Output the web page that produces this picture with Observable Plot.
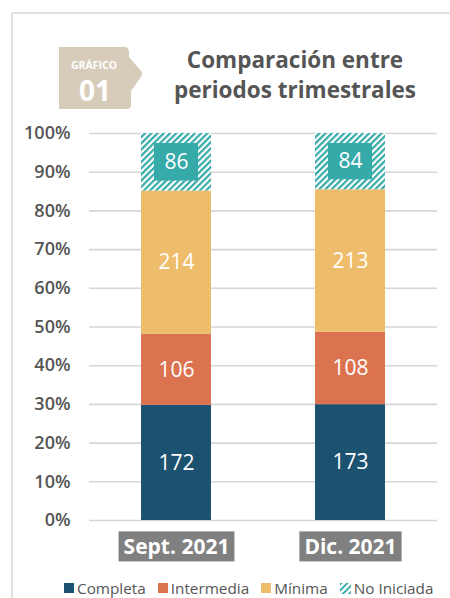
<!DOCTYPE html>
<html>
<head>
<meta charset="utf-8">
<script src="https://cdn.jsdelivr.net/npm/d3@7"></script>
<script src="https://cdn.jsdelivr.net/npm/@observablehq/plot@0.6"></script>
<style>
  html, body { margin: 0; padding: 0; background: #fff; }
  #wrap { position: relative; width: 450px; height: 598px; overflow: hidden; font-family: "Open Sans", sans-serif; }
  #frame-top { position: absolute; left: 12px; top: 12px; width: 440px; height: 2px; background: #e0e0e0; }
  #frame-left { position: absolute; left: 11px; top: 12px; width: 2px; height: 590px; background: #e0e0e0; }
  #badge { position: absolute; left: 59px; top: 47px; }
  #title { position: absolute; left: 150px; top: 45px; width: 290px; text-align: center; font-size: 22.5px; font-weight: 700; color: #555; line-height: 30px; }
  #chart { position: absolute; left: 0; top: 115px; }
  #legend { position: absolute; left: 64px; top: 578px; display: flex; gap: 12px; font-size: 15.3px; color: #555; white-space: nowrap; }
  #legend .item { display: flex; align-items: center; gap: 3px; }
  #legend .sw { width: 10px; height: 10px; display: inline-block; }
</style>
</head>
<body>
<div id="wrap">
  <div id="frame-top"></div>
  <div id="frame-left"></div>
  <svg id="badge" width="84" height="64" viewBox="0 0 84 64">
    <path d="M0,0 H66 Q70,0 70,6 V10 L82,24 Q84,27 82,30 L72,44 V58 Q72,62 68,62 H0 Z" fill="#d7ccba"/>
    <text x="35" y="22" text-anchor="middle" fill="#fff" font-family="Open Sans" font-weight="700" font-size="10.5">GRÁFICO</text>
    <text x="36" y="54" text-anchor="middle" fill="#fff" font-family="Open Sans" font-weight="700" font-size="28">01</text>
  </svg>
  <div id="title">Comparación entre<br>periodos trimestrales</div>
  <div id="chart"></div>
  <div id="legend"></div>
</div>
<script>
const periods = ["Sept. 2021", "Dic. 2021"];
const categories = ["Completa", "Intermedia", "Mínima", "No Iniciada"];
const septValues = [172, 106, 214, 86];
const dicValues = [173, 108, 213, 84];
const colors = ["#1b5270", "#dc7350", "#eebd6b", "#35aaa8"];
const yTicks = [0, 0.1, 0.2, 0.3, 0.4, 0.5, 0.6, 0.7, 0.8, 0.9, 1];

const series = [septValues, dicValues];
const data = [];
periods.forEach((p, i) => categories.forEach((c, j) => data.push({period: p, cat: c, value: series[i][j]})));

const fillOf = c => c === "No Iniciada" ? "url(#hatch)" : colors[categories.indexOf(c)];

const plot = Plot.plot({
  width: 450,
  height: 455,
  marginTop: 18,
  marginBottom: 50,
  marginLeft: 89,
  marginRight: 13,
  style: {fontFamily: "Open Sans, sans-serif", background: "transparent"},
  x: {domain: periods, paddingInner: 0.6, paddingOuter: 0.3},
  y: {domain: [0, 1]},
  color: {type: "identity"},
  marks: [
    Plot.gridY(yTicks, {stroke: "#d6d6d6", strokeOpacity: 1, strokeWidth: 1.6}),
    Plot.barY(data, Plot.stackY({offset: "normalize", x: "period", y: "value", z: "cat", fill: d => fillOf(d.cat)})),
    Plot.barY(data, Plot.stackY({offset: "normalize", x: "period", y: "value", z: "cat",
      fill: d => d.cat === "No Iniciada" ? colors[3] : "none", insetTop: 10, insetBottom: 10, insetLeft: 13, insetRight: 13})),
    Plot.text(data, Plot.stackY({offset: "normalize", x: "period", y: "value", z: "cat", text: d => String(d.value),
      fill: "#fff", fontSize: 21, fontWeight: 400})),
    Plot.axisY({ticks: yTicks, tickFormat: d => Math.round(d * 100) + "%", tickSize: 0, tickPadding: 19, fontSize: 18, fontWeight: 600, fill: "#555", label: null}),
    Plot.axisX({tickSize: 0, tickPadding: 19, fontSize: 21, fontWeight: 700, fill: "#fff", label: null})
  ]
});

const svg = d3.select(plot);
const defs = svg.insert("defs", ":first-child");
const pat = defs.append("pattern").attr("id", "hatch").attr("patternUnits", "userSpaceOnUse")
  .attr("width", 4.4).attr("height", 4.4).attr("patternTransform", "rotate(45)");
pat.append("rect").attr("width", 4.4).attr("height", 4.4).attr("fill", "#fff");
pat.append("rect").attr("width", 2.2).attr("height", 4.4).attr("fill", colors[3]);

document.getElementById("chart").appendChild(plot);

// gray background boxes behind x tick labels
svg.selectAll("[aria-label='x-axis tick label'] text").each(function () {
  const b = this.getBBox();
  d3.select(this.parentNode).insert("rect", () => this)
    .attr("x", b.x - 5).attr("y", b.y - 1).attr("width", b.width + 10).attr("height", b.height + 2)
    .attr("fill", "#808080")
    .attr("transform", this.getAttribute("transform"));
});

// legend
const legend = d3.select("#legend");
categories.forEach((c, i) => {
  const item = legend.append("div").attr("class", "item");
  if (c === "No Iniciada") {
    item.append("svg").attr("width", 11).attr("height", 11)
      .html(`<defs><pattern id="hatchL" patternUnits="userSpaceOnUse" width="4.4" height="4.4" patternTransform="rotate(45)"><rect width="4.4" height="4.4" fill="#fff"/><rect width="1.8" height="4.4" fill="${colors[3]}"/></pattern></defs><rect width="11" height="11" fill="url(#hatchL)"/>`);
  } else {
    item.append("span").attr("class", "sw").style("background", colors[i]);
  }
  item.append("span").text(c);
});
</script>
</body>
</html>
